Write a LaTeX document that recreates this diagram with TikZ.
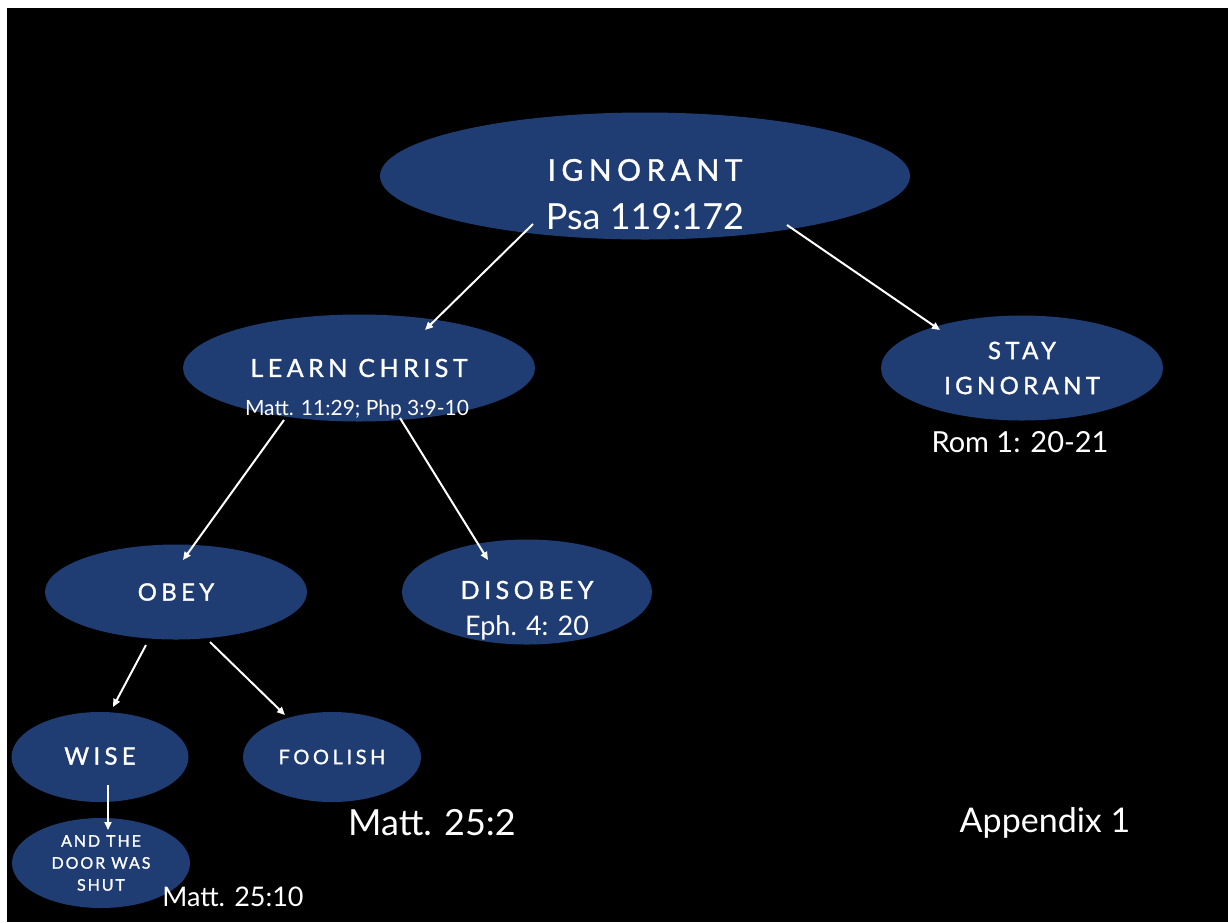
\documentclass[tikz,border=0pt]{standalone}
\usepackage{fontspec}
\setmainfont{Lato}
\newfontfamily\capsfont[LetterSpace=18,FakeBold=1.2]{Lato}
\newfontfamily\smallcapsfont[LetterSpace=12,FakeBold=1.2]{Lato}
\usetikzlibrary{shapes.geometric,arrows.meta}
\definecolor{slideblue}{RGB}{31,61,115}
\tikzset{
  bubble/.style={ellipse,fill=slideblue,draw=none,inner sep=0pt,text=white,align=center},
  reftext/.style={text=white,inner sep=0pt},
  link/.style={-{Triangle[length=8pt,width=7pt]},white,line width=2pt,shorten <=0pt,shorten >=0pt}
}

\begin{document}
\begin{tikzpicture}[x=1pt,y=-1pt]
	\useasboundingbox (0,0) rectangle (1228,922);
	\fill[white] (0,0) rectangle (1228,922);
	\fill[black] (7,8) rectangle (1228,922);
	% ellipses
	\node[bubble,minimum width=530pt,minimum height=127pt] (ign) at (645,176){};
	\node[bubble,minimum width=352pt,minimum height=107pt] (lc) at (359,368){};
	\node[bubble,minimum width=282pt,minimum height=105pt] (stay) at (1022,368){};
	\node[bubble,minimum width=262pt,minimum height=95pt] (obey) at (176,592){};
	\node[bubble,minimum width=250pt,minimum height=105pt] (dis) at (527,592){};
	\node[bubble,minimum width=177pt,minimum height=90pt] (wise) at (100,757){};
	\node[bubble,minimum width=178pt,minimum height=90pt] (fool) at (332,757){};
	\node[bubble,minimum width=178pt,minimum height=90pt] (shut) at (101,863){};
	% titles
	\node[reftext,font=\capsfont\fontsize{30}{30}\selectfont] (ign-t) at (645,170){IGNORANT};
	\node[reftext,font=\fontsize{36}{36}\selectfont] (ign-r) at (645,217){Psa 119:172};
	\node[reftext,font=\capsfont\fontsize{25}{25}\selectfont] (lc-t) at (359,368){LEARN CHRIST};
	\node[reftext,font=\fontsize{21}{21}\selectfont] (lc-r) at (357,410){Matt. 11:29; Php 3:9-10};
	\node[reftext,align=center,font=\capsfont\fontsize{24}{35}\selectfont] (stay-t) at (1022,368){STAY\\IGNORANT};
	\node[reftext,font=\fontsize{29}{29}\selectfont] (stay-r) at (1020,442){Rom 1: 20-21};
	\node[reftext,font=\capsfont\fontsize{24}{24}\selectfont] (obey-t) at (176,592){OBEY};
	\node[reftext,font=\capsfont\fontsize{25}{25}\selectfont] (dis-t) at (527,590){DISOBEY};
	\node[reftext,font=\fontsize{27}{27}\selectfont] (dis-r) at (527,628){Eph. 4: 20};
	\node[reftext,font=\capsfont\fontsize{24}{24}\selectfont] (wise-t) at (100,756){WISE};
	\node[reftext,font=\capsfont\fontsize{20}{20}\selectfont] (fool-t) at (332,757){FOOLISH};
	\node[reftext,align=center,font=\smallcapsfont\fontsize{16}{22}\selectfont] (shut-t) at (101,863){AND THE\\DOOR WAS\\SHUT};
	\node[reftext,font=\fontsize{36}{36}\selectfont] (fool-r) at (432,823){Matt. 25:2};
	\node[reftext,font=\fontsize{27}{27}\selectfont] (shut-r) at (233,897){Matt. 25:10};
	\node[reftext,font=\fontsize{34}{34}\selectfont] (app) at (1045,823){Appendix 1};
	% arrow ends
	\coordinate (ign-a) at (533,224);
	\coordinate (ign-b) at (787,225);
	\coordinate (lc-in) at (425,330);
	\coordinate (stay-in) at (940,330);
	\coordinate (lc-a) at (284,420);
	\coordinate (lc-b) at (400,418);
	\coordinate (obey-in) at (183,560);
	\coordinate (dis-in) at (488,560);
	\coordinate (obey-a) at (146,645);
	\coordinate (obey-b) at (210,642);
	\coordinate (wise-in) at (113,707);
	\coordinate (fool-in) at (285,715);
	\coordinate (wise-a) at (108,785);
	\coordinate (shut-in) at (108,830);
	\draw (ign-a) edge [link] (lc-in);
	\draw (ign-b) edge [link] (stay-in);
	\draw (lc-a) edge [link] (obey-in);
	\draw (lc-b) edge [link] (dis-in);
	\draw (obey-a) edge [link] (wise-in);
	\draw (obey-b) edge [link] (fool-in);
	\draw (wise-a) edge [link] (shut-in);
\end{tikzpicture}
\end{document}
